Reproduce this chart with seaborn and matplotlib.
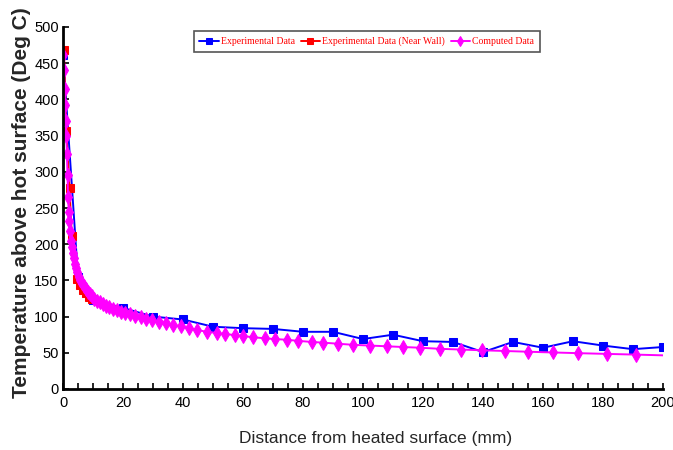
import matplotlib
matplotlib.use("Agg")
import matplotlib.pyplot as plt
from matplotlib.ticker import MultipleLocator
import seaborn as sns
import pandas as pd

# ---- data ----
exp_x = [0, 5, 10, 20, 30, 40, 50, 60, 70, 80, 90, 100, 110, 120, 130, 140, 150, 160, 170, 180, 190, 200]
exp_y = [462, 155, 123, 112, 100, 96, 86, 84, 83, 79, 79, 69, 75, 66, 65, 51, 65, 57, 66, 60, 55, 58]

wall_x = [0.3, 1.1, 2.2, 2.9, 4.5, 5.5, 6.5, 7.5, 8.5, 9.5]
wall_y = [468, 356, 277, 212, 152, 143, 137, 132, 127, 124]

comp_x = [0.1, 0.3, 0.5, 0.7, 0.9, 1.1, 1.3, 1.5, 1.7, 1.9, 2.1, 2.4, 2.7, 3.0, 3.3, 3.6,
          4.0, 4.4, 4.8, 5.3, 5.8, 6.3, 6.9, 7.5, 8.2, 8.9, 9.6, 10.4, 11.3, 12.2, 13.2,
          14.3, 15.4, 16.6, 17.9, 19.3, 20.8, 22.4, 24.1, 25.9, 27.8, 29.8, 31.9, 34.2,
          36.6, 39.2, 41.9, 44.8, 47.9, 51.2, 54.0, 57.3, 60.1, 63.4, 67.3, 70.7, 74.6,
          78.4, 82.9, 86.8, 91.8, 96.8, 102.3, 107.9, 113.4, 119.0, 125.7, 132.6, 139.6,
          147.3, 154.9, 163.2, 171.6, 181.2, 190.9, 200.0]
comp_y = [462, 440, 415, 392, 370, 350, 325, 295, 265, 245, 232, 218, 205, 196, 188, 181,
          173, 167, 161, 155, 150, 146, 142, 138, 134, 131, 128, 125, 122, 120, 117,
          115, 113, 111, 109, 107, 105, 103, 101, 99, 97, 95, 93, 91,
          89, 86.5, 84, 81.5, 79, 77.5, 76, 74.5, 73, 71.5, 70, 69, 68,
          66.5, 65, 64, 62.5, 61, 60, 59, 58, 57, 55.5, 54.5, 53.5,
          52.5, 51.5, 50.5, 49.5, 48.5, 47.5, 46.5]

labels = ["Experimental Data", "Experimental Data (Near Wall)", "Computed Data"]
x_ticks = list(range(0, 201, 20))
y_ticks = list(range(0, 501, 50))

# ---- plot ----
sns.set_style("white")
plt.rcParams['font.family'] = ['Liberation Sans', 'DejaVu Sans']

fig = plt.figure(figsize=(6.73, 4.5), dpi=100)
ax = fig.add_axes([63/673, 61/450, 600/673, 362/450])

df_exp = pd.DataFrame({"x": exp_x, "y": exp_y})
df_wall = pd.DataFrame({"x": wall_x, "y": wall_y})
df_comp = pd.DataFrame({"x": comp_x, "y": comp_y})

sns.lineplot(data=df_exp, x="x", y="y", ax=ax, color="#0000ff", marker="s", markersize=6,
             markeredgecolor="#0000ff", linewidth=1.4, sort=False, estimator=None, label=labels[0])
sns.lineplot(data=df_wall, x="x", y="y", ax=ax, color="#ff0000", marker="s", markersize=6,
             markeredgecolor="#ff0000", linewidth=1.4, sort=False, estimator=None, label=labels[1])
sns.lineplot(data=df_comp, x="x", y="y", ax=ax, color="#ff00ff", marker="d", markersize=7,
             markeredgecolor="#ff00ff", linewidth=1.4, sort=False, estimator=None,
             markevery=list(range(len(comp_x) - 1)), label=labels[2])

ax.set_xlim(0, 200)
ax.set_ylim(0, 500)
ax.set_xticks(x_ticks)
ax.set_yticks(y_ticks)
ax.xaxis.set_minor_locator(MultipleLocator(5))
ax.tick_params(axis="both", which="both", direction="in", length=4, width=1.2,
               labelsize=10.5, colors="black")
ax.tick_params(axis="x", which="both", pad=5)
ax.tick_params(axis="y", which="both", pad=3)
ax.tick_params(axis="both", which="both", bottom=True, left=True)
for s in ["top", "right"]:
    ax.spines[s].set_visible(False)
for s in ["left", "bottom"]:
    ax.spines[s].set_color("black")
    ax.spines[s].set_linewidth(2)
ax.set_xlabel("")
ax.set_ylabel("")

fig.text(376/673, 12/450, "Distance from heated surface (mm)", ha="center", va="center",
         fontsize=12.5)
fig.text(22/673, 52/450, "Temperature above hot surface (Deg C)", rotation=90,
         ha="center", va="bottom", fontsize=15, fontweight="bold")

leg = ax.legend(loc="upper center", bbox_to_anchor=(0.506, 1.003), ncol=3,
                prop={"family": ["Liberation Serif"], "size": 7}, labelcolor="red",
                frameon=True, fancybox=False, edgecolor="#555555", framealpha=1,
                handlelength=2.0, handletextpad=0.2, columnspacing=0.6,
                borderpad=0.6, markerscale=0.8)
leg.get_frame().set_linewidth(1.2)

fig.savefig("out.png", dpi=100)
